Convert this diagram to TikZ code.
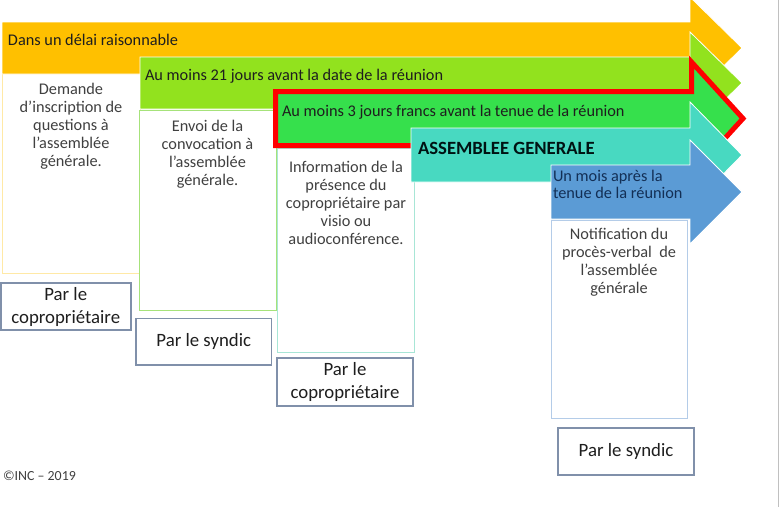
\documentclass[tikz,border=0pt]{standalone}
\usepackage{fontspec}
\setmainfont{Carlito}
\definecolor{orangec}{HTML}{FFC000}
\definecolor{lgreen}{HTML}{92E21E}
\definecolor{dgreen}{HTML}{36E04C}
\definecolor{tealc}{HTML}{48D9C1}
\definecolor{bluec}{HTML}{5B9BD5}
\definecolor{redc}{HTML}{FF0000}
\definecolor{txt}{HTML}{1E1E1E}
\definecolor{boxtxt}{HTML}{404040}
\definecolor{navy}{HTML}{132F55}
\definecolor{b1}{HTML}{FFE9A6}
\definecolor{b2}{HTML}{A6E27A}
\definecolor{b3}{HTML}{A8E6D6}
\definecolor{b4}{HTML}{B4CCE8}
\definecolor{lblc}{HTML}{8090AA}
\definecolor{edge}{HTML}{C0C0C0}
\begin{document}
\begin{tikzpicture}[x=1pt,y=-1pt,
  every node/.style={inner sep=0pt,outer sep=0pt},
  arrowtxt/.style={anchor=west,font=\fontsize{16.3}{17.3}\selectfont,text=txt},
  boxtext/.style={anchor=north,align=center,font=\fontsize{16.3}{17.9}\selectfont,text=boxtxt},
  framebox/.style={draw=#1,line width=1pt,fill=white},
  lbl/.style={draw=lblc,line width=1.5pt,fill=white,align=center,
    font=\fontsize{18.8}{23}\selectfont,text=txt},
  arrowfill/.style={fill=#1,draw=white,line width=0.8pt,line join=miter}]
\useasboundingbox (0,0) rectangle (780,507);
% right edge line
\draw[edge,line width=1pt] (778.5,0) -- (778.5,507);
% text frames
\draw[framebox=b1] (2.5,73.5) rectangle (140,273.5);
\draw[framebox=b2] (139.5,110) rectangle (276,310);
\draw[framebox=b3] (277,148) rectangle (414.5,352.5);
\draw[framebox=b4] (551,220) rectangle (687,418);
% arrows
\path[arrowfill=orangec] (2,22) -- (690,22) -- (690,-3) -- (742,48) -- (690,99) -- (690,74) -- (2,74) -- cycle;
\path[arrowfill=lgreen] (140,57) -- (690,57) -- (690,32) -- (742,83) -- (690,134) -- (690,109) -- (140,109) -- cycle;
\path[fill=dgreen,draw=redc,line width=5pt,line join=miter] (275.5,91.5) -- (691.5,91.5) -- (691.5,62) -- (743,118.5) -- (691.5,175) -- (691.5,145.5) -- (275.5,145.5) -- cycle;
\path[arrowfill=tealc] (411,128) -- (690,128) -- (690,102) -- (742,155) -- (690,208) -- (690,182) -- (411,182) -- cycle;
\path[arrowfill=bluec] (551,165) -- (690,165) -- (690,140) -- (742,192) -- (690,244) -- (690,219) -- (551,219) -- cycle;
% arrow texts
\node[arrowtxt] (t1) at (8,40) {Dans un délai raisonnable};
\node[arrowtxt] (t2) at (145,76) {Au moins 21 jours avant la date de la réunion};
\node[arrowtxt] (t3) at (282,112) {Au moins 3 jours francs avant la tenue de la réunion};
\node[arrowtxt,font=\fontsize{18.7}{20}\selectfont\bfseries,text=black!85!teal] (t4) at (418,148) {ASSEMBLEE GENERALE};
\node[arrowtxt,align=left,text=navy] (t5) at (553,184.5) {Un mois après la\\tenue de la réunion};
% box texts
\node[boxtext] (d1) at (71,83.5) {Demande\\d’inscription de\\questions à\\l’assemblée\\générale.};
\node[boxtext] (d2) at (207.5,120.5) {Envoi de la\\convocation à\\l’assemblée\\générale.};
\node[boxtext] (d3) at (346,161.5) {Information de la\\présence du\\copropriétaire par\\visio ou\\audioconférence.};
\node[boxtext] (d4) at (619,228.5) {Notification du\\procès-verbal~ de\\l’assemblée\\générale};
% labels
\node[lbl,minimum width=130pt,minimum height=47pt] (l1) at (65.75,306.5) {Par le\\copropriétaire};
\node[lbl,minimum width=135.5pt,minimum height=46.5pt] (l2) at (203.75,341.75) {Par le syndic};
\node[lbl,minimum width=136pt,minimum height=48pt] (l3) at (345,382) {Par le\\copropriétaire};
\node[lbl,minimum width=136pt,minimum height=47pt] (l4) at (626,451.5) {Par le syndic};
% copyright
\node[anchor=west,font=\fontsize{13.9}{15}\selectfont,text=boxtxt] (cp) at (3,476) {©INC – 2019};
\end{tikzpicture}
\end{document}
